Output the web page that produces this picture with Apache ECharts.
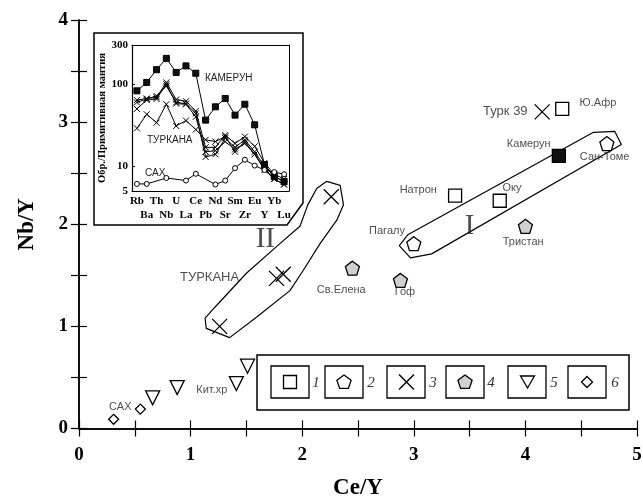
<!DOCTYPE html>
<html><head><meta charset="utf-8">
<script src="https://cdn.jsdelivr.net/npm/echarts/dist/echarts.min.js"></script>
<style>html,body{margin:0;padding:0;background:#fff}#c{width:643px;height:496px}</style>
</head><body><div id="c"></div>
<script>
// ---------- main diagram data (Ce/Y, Nb/Y) ----------
const squares = [[3.37,2.28],[3.77,2.23],[4.33,3.13]];          // 1
const squareFilled = [[4.30,2.67]];                               // Камерун
const pentagons = [[3.00,1.81],[4.73,2.79]];                      // 2
const crosses = [[2.26,2.27],[1.77,1.47],[1.83,1.51],[1.26,1.00],[4.15,3.10]]; // 3
const greyPentagons = [[2.45,1.57],[2.88,1.45],[4.00,1.98]];      // 4
const triangles = [[0.66,0.30],[0.88,0.40],[1.41,0.44],[1.51,0.61]]; // 5
const diamonds = [[0.31,0.09],[0.55,0.19]];                       // 6
const envelopeI = [[2.95,1.90],[4.61,2.90],[4.80,2.91],[4.86,2.78],[3.16,1.71],[2.97,1.67],[2.87,1.79],[2.95,1.90]];
const envelopeII = [[2.22,2.42],[2.34,2.38],[2.37,2.19],[2.31,2.04],[2.16,1.81],[2.01,1.55],[1.89,1.35],[1.59,1.09],
  [1.35,0.89],[1.14,0.98],[1.13,1.08],[1.22,1.19],[1.50,1.52],[1.80,1.81],[1.98,1.98],[2.05,2.19],[2.13,2.35],[2.22,2.42]];
const smallLabels = [[0.37,0.21,'САХ'],[1.19,0.38,'Кит.хр'],[2.35,1.36,'Св.Елена'],[2.92,1.34,'Гоф'],[2.76,1.93,'Пагалу'],
  [3.04,2.34,'Натрон'],[3.88,2.36,'Оку'],[3.98,1.83,'Тристан'],[4.03,2.79,'Камерун'],[4.71,2.66,'Сан-Томе'],[4.65,3.19,'Ю.Афр']];
const bigLabels = [[1.17,1.48,'ТУРКАНА'],[3.82,3.10,'Турк 39']];
const romanLabels = [[1.67,1.85,'II'],[3.50,1.98,'I']];
const xTickLabels = ['0','1','2','3','4','5'];
const yTickLabels = ['0','1','2','3','4'];

// ---------- inset spider diagram ----------
const elements = ['Rb','Ba','Th','Nb','U','La','Ce','Pb','Nd','Sr','Sm','Zr','Eu','Y','Yb','Lu'];
const cameroon = [83,105,150,206,139,167,136,36.5,53,67,42,57,32,10.5,7.5,6.5];
const turkana1 = [64,67,69,105,65,62,47,17,17,24,19,23,17.5,11,8,7];
const turkana2 = [60,66,72,95,60,58,44,13,14,22,17,21,15,10,7.5,6.5];
const turkana3 = [50,64,66,100,58,57,40,15,15.5,20,16,19,14,9.5,7,6];
const turkana4 = [29,43,34,57,31,36,28,21,20,23,15,20,14,9,7,6];
const sah = [6.1,6.1,null,7.2,null,6.7,8.1,null,6.0,6.7,9.5,12,10.2,9,8.5,8];

const PENT = 'path://M0,-1 L0.951,-0.309 L0.588,0.809 L-0.588,0.809 L-0.951,-0.309 Z';
const CROSS = 'path://M0,0 L1,1 M1,0 L0,1';
const SERIF = 'Liberation Serif';
const SANS = 'Liberation Sans';

function sc(data, symbol, size, fill, rot) {
  return {type:'scatter', xAxisIndex:0, yAxisIndex:0, data, symbol, symbolSize:size, symbolRotate:rot||0,
    itemStyle:{color:fill, borderColor:'#000', borderWidth:1.3, opacity:1}, z:5, silent:true};
}
function lab(data, size, family) {
  return {type:'scatter', xAxisIndex:0, yAxisIndex:0, data: data.map(d=>({value:[d[0],d[1]], name:d[2]})),
    symbolSize:0, silent:true, z:6,
    label:{show:true, position:'inside', formatter:p=>p.name, color:'#222', fontSize:size, fontFamily:family}};
}
function env(data) {
  return {type:'line', xAxisIndex:0, yAxisIndex:0, data, symbol:'none', lineStyle:{color:'#000', width:1.2}, z:3, silent:true};
}
function spider(data, symbol, size, fill) {
  return {type:'line', xAxisIndex:2, yAxisIndex:2, data, symbol, symbolSize:size, connectNulls:true,
    lineStyle:{color:'#000', width:1}, itemStyle:{color:fill, borderColor:'#000', borderWidth:1}, z:4, silent:true};
}
const mainAxisCommon = {type:'value', gridIndex:0, min:0, interval:0.5,
  axisLine:{lineStyle:{color:'#000', width:1.5}},
  axisTick:{inside:true, length:8, lineStyle:{color:'#000', width:1.2}},
  splitLine:{show:false}};

const chart = echarts.init(document.getElementById('c'), null, {renderer:'canvas'});
chart.setOption({
  animation:false,
  backgroundColor:'#fff',
  grid:[{left:79, top:20, right:6, bottom:67.5, containLabel:false, outerBoundsMode:'none'},
        {left:132, top:45, width:157, height:146, containLabel:false, outerBoundsMode:'none'}],
  xAxis:[
    Object.assign({}, mainAxisCommon, {max:5, position:'bottom',
      axisLabel:{formatter:v=>Number.isInteger(v)?xTickLabels[v]:'', color:'#000', fontFamily:SERIF, fontWeight:'bold', fontSize:19, margin:17},
      name:'Ce/Y', nameLocation:'middle', nameGap:48, nameTextStyle:{color:'#000', fontFamily:SERIF, fontWeight:'bold', fontSize:23}}),
    Object.assign({}, mainAxisCommon, {max:5, position:'top', axisLabel:{show:false}}),
    {type:'category', gridIndex:1, data:elements, boundaryGap:true, position:'bottom',
      axisLine:{lineStyle:{color:'#000', width:1.2}},
      axisTick:{inside:true, length:3, alignWithLabel:true, lineStyle:{color:'#000'}},
      axisLabel:{interval:0, formatter:(v,i)=> i%2 ? '\n'+v : v, color:'#000', fontFamily:SERIF, fontWeight:'bold', fontSize:11, lineHeight:14, margin:3}},
    {type:'category', gridIndex:1, data:elements, boundaryGap:true, position:'top',
      axisLine:{lineStyle:{color:'#000', width:1}},
      axisTick:{inside:true, length:3, alignWithLabel:true, lineStyle:{color:'#000'}}, axisLabel:{show:false}}
  ],
  yAxis:[
    Object.assign({}, mainAxisCommon, {max:4, position:'left',
      axisLabel:{formatter:v=>Number.isInteger(v)?yTickLabels[v]:'', color:'#000', fontFamily:SERIF, fontWeight:'bold', fontSize:19, margin:11},
      name:'Nb/Y', nameLocation:'middle', nameGap:40, nameTextStyle:{color:'#000', fontFamily:SERIF, fontWeight:'bold', fontSize:23}}),
    Object.assign({}, mainAxisCommon, {max:4, position:'right', axisLabel:{show:false}}),
    {type:'log', gridIndex:1, logBase:10, min:5, max:300, position:'left',
      axisLine:{show:true, lineStyle:{color:'#000', width:1.2}},
      axisTick:{show:true, inside:true, length:3, lineStyle:{color:'#000'}},
      minorTick:{show:false},
      splitLine:{show:false},
      axisLabel:{formatter:v=>String(Math.round(v)), color:'#000', fontFamily:SERIF, fontWeight:'bold', fontSize:11, margin:4},
      name:'Обр./Примитивная мантия', nameLocation:'middle', nameGap:24,
      nameTextStyle:{color:'#000', fontFamily:SERIF, fontWeight:'bold', fontSize:10.5}},
    {type:'log', gridIndex:1, logBase:10, min:5, max:300, position:'right',
      axisLine:{show:true, lineStyle:{color:'#000', width:1}}, axisTick:{show:false}, splitLine:{show:false}, axisLabel:{show:false}}
  ],
  series:[
    env(envelopeI), env(envelopeII),
    sc(squares,'rect',13,'#fff'),
    sc(squareFilled,'rect',13,'#111'),
    sc(pentagons,PENT,14,'#fff'),
    sc(crosses,CROSS,15,'transparent'),
    sc(greyPentagons,PENT,14,'#d0d0d0'),
    sc(triangles,'triangle',14,'#fff',180),
    sc(diamonds,'diamond',10,'#fff'),
    lab(smallLabels,11,SANS),
    lab(bigLabels,13,SANS),
    lab(romanLabels,29,SERIF),
    spider(cameroon,'rect',6,'#111'),
    spider(turkana1,CROSS,6,'transparent'),
    spider(turkana2,CROSS,6,'transparent'),
    spider(turkana3,CROSS,6,'transparent'),
    spider(turkana4,CROSS,6,'transparent'),
    spider(sah,'circle',5,'#fff')
  ],
  graphic:[
    {type:'polygon', shape:{points:[[94,33],[303,33],[303,203],[287,225],[94,225]]}, style:{fill:'none', stroke:'#000', lineWidth:1.5}, z:10, silent:true},
    {type:'text', left:205, top:73, style:{text:'КАМЕРУН', font:'10px "Liberation Sans"', fill:'#222'}, z:10},
    {type:'text', left:147, top:135, style:{text:'ТУРКАНА', font:'10px "Liberation Sans"', fill:'#222'}, z:10},
    {type:'text', left:145, top:168, style:{text:'САХ', font:'10px "Liberation Sans"', fill:'#222'}, z:10},
    // legend
    {type:'rect', shape:{x:257, y:355, width:372, height:55}, style:{fill:'#fff', stroke:'#000', lineWidth:1.5}, z:10},
    {type:'rect', shape:{x:271, y:366, width:38, height:32}, style:{fill:'none', stroke:'#000', lineWidth:1.3}, z:11},
    {type:'rect', shape:{x:325, y:366, width:38, height:32}, style:{fill:'none', stroke:'#000', lineWidth:1.3}, z:11},
    {type:'rect', shape:{x:387, y:366, width:38, height:32}, style:{fill:'none', stroke:'#000', lineWidth:1.3}, z:11},
    {type:'rect', shape:{x:446, y:366, width:38, height:32}, style:{fill:'none', stroke:'#000', lineWidth:1.3}, z:11},
    {type:'rect', shape:{x:508, y:366, width:38, height:32}, style:{fill:'none', stroke:'#000', lineWidth:1.3}, z:11},
    {type:'rect', shape:{x:568, y:366, width:38, height:32}, style:{fill:'none', stroke:'#000', lineWidth:1.3}, z:11},
    {type:'rect', shape:{x:283.5, y:375.5, width:13, height:13}, style:{fill:'#fff', stroke:'#000', lineWidth:1.3}, z:11},
    {type:'polygon', shape:{points:[[344,375],[351.1,380.2],[348.4,388.4],[339.6,388.4],[336.9,380.2]]}, style:{fill:'#fff', stroke:'#000', lineWidth:1.3}, z:11},
    {type:'polyline', shape:{points:[[399,374.5],[414,389.5]]}, style:{stroke:'#000', lineWidth:1.4}, z:11},
    {type:'polyline', shape:{points:[[414,374.5],[399,389.5]]}, style:{stroke:'#000', lineWidth:1.4}, z:11},
    {type:'polygon', shape:{points:[[465,375],[472.1,380.2],[469.4,388.4],[460.6,388.4],[457.9,380.2]]}, style:{fill:'#d0d0d0', stroke:'#000', lineWidth:1.3}, z:11},
    {type:'polygon', shape:{points:[[520.5,376],[534.5,376],[527.5,388]]}, style:{fill:'#fff', stroke:'#000', lineWidth:1.3}, z:11},
    {type:'polygon', shape:{points:[[587,376.5],[592.5,382],[587,387.5],[581.5,382]]}, style:{fill:'#fff', stroke:'#000', lineWidth:1.3}, z:11},
    {type:'text', x:316, y:383, style:{text:'1', font:'italic 15px "Liberation Serif"', fill:'#333', textAlign:'center', textVerticalAlign:'middle'}, z:11},
    {type:'text', x:371, y:383, style:{text:'2', font:'italic 15px "Liberation Serif"', fill:'#333', textAlign:'center', textVerticalAlign:'middle'}, z:11},
    {type:'text', x:433, y:383, style:{text:'3', font:'italic 15px "Liberation Serif"', fill:'#333', textAlign:'center', textVerticalAlign:'middle'}, z:11},
    {type:'text', x:491, y:383, style:{text:'4', font:'italic 15px "Liberation Serif"', fill:'#333', textAlign:'center', textVerticalAlign:'middle'}, z:11},
    {type:'text', x:554, y:383, style:{text:'5', font:'italic 15px "Liberation Serif"', fill:'#333', textAlign:'center', textVerticalAlign:'middle'}, z:11},
    {type:'text', x:615, y:383, style:{text:'6', font:'italic 15px "Liberation Serif"', fill:'#333', textAlign:'center', textVerticalAlign:'middle'}, z:11}
  ]
});
</script></body></html>
